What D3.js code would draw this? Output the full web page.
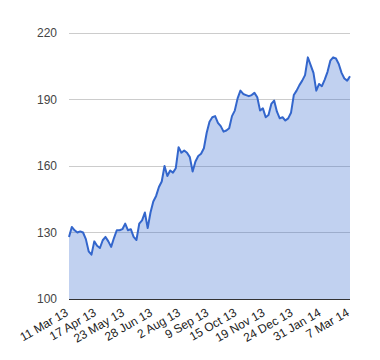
<!DOCTYPE html>
<html>
<head>
<meta charset="utf-8">
<script src="https://cdn.jsdelivr.net/npm/d3@7"></script>
<style>
  body { margin: 0; background: #fff; }
  text { font-family: "Liberation Sans", Arial, sans-serif; }
</style>
</head>
<body>
<div id="chart"></div>
<script>
// price readings, evenly spaced trading days (11 Mar 13 .. 7 Mar 14)
let values = [128, 132.5, 131, 130, 130.5, 130, 127, 121.5, 120, 126,
    124, 123, 126.5, 128, 126, 123.5, 127.5, 131, 131, 131.5,
    134, 131, 131.5, 128, 126.6, 134, 135.5, 139, 132, 139,
    144, 146.5, 150.5, 153, 160, 155.5, 158, 157, 159, 168.5,
    166, 167, 166, 164, 157.5, 162, 164.5, 165.5, 168, 175,
    180, 182, 182.5, 179.5, 178, 175.5, 176, 177, 182.5, 185,
    190.5, 194, 192.5, 192, 191.5, 192, 193, 191, 185, 186,
    182, 183, 188, 189.5, 184.5, 181.5, 182, 180.5, 181.5, 184,
    192, 194, 196.5, 198.5, 201, 209, 205.5, 202, 194, 197,
    196, 199, 202.5, 207.5, 209, 208.5, 206, 202, 199.5, 198.5,
    200.5];

// x labels, one every 10 points
let tickLabels = ["11 Mar 13", "17 Apr 13", "23 May 13", "28 Jun 13", "2 Aug 13",
    "9 Sep 13", "15 Oct 13", "19 Nov 13", "24 Dec 13", "31 Jan 14", "7 Mar 14"];
let yTicks = [100, 130, 160, 190, 220];

var margin = { top: 33, right: 30, bottom: 61, left: 69 },
    width = 380 - margin.left - margin.right,
    height = 360 - margin.top - margin.bottom;

var svg = d3.select("#chart")
    .append("svg")
    .attr("width", 380)
    .attr("height", 360)
    .append("g")
    .attr("transform", "translate(" + margin.left + "," + margin.top + ")");

var x = d3.scaleLinear()
    .domain([0, values.length - 1])
    .range([0, width]);

var y = d3.scaleLinear()
    .domain([100, 220])
    .range([height, 0]);

// gridlines
svg.selectAll(".grid")
    .data(yTicks)
    .enter()
    .append("line")
    .attr("x1", 0)
    .attr("x2", width)
    .attr("y1", function (d) { return y(d); })
    .attr("y2", function (d) { return y(d); })
    .attr("stroke", "#cccccc")
    .attr("stroke-width", 1)
    .attr("shape-rendering", "crispEdges");

// y labels
svg.selectAll(".ylab")
    .data(yTicks)
    .enter()
    .append("text")
    .attr("x", -12)
    .attr("y", function (d) { return y(d); })
    .attr("dy", "0.35em")
    .attr("text-anchor", "end")
    .style("font-size", "12px")
    .style("fill", "#444")
    .text(function (d) { return d; });

// area + line
var area = d3.area()
    .x(function (d, i) { return x(i); })
    .y0(y(100))
    .y1(function (d) { return y(d); });

var line = d3.line()
    .x(function (d, i) { return x(i); })
    .y(function (d) { return y(d); });

svg.append("path")
    .datum(values)
    .attr("d", area)
    .attr("fill", "#3366cc")
    .attr("fill-opacity", 0.3);

svg.append("path")
    .datum(values)
    .attr("d", line)
    .attr("fill", "none")
    .attr("stroke", "#3366cc")
    .attr("stroke-width", 2)
    .attr("stroke-linejoin", "round");

// baseline
svg.append("line")
    .attr("x1", 0)
    .attr("x2", width)
    .attr("y1", y(100))
    .attr("y2", y(100))
    .attr("stroke", "#333")
    .attr("stroke-width", 1)
    .attr("shape-rendering", "crispEdges");

// x labels, rotated
svg.selectAll(".xlab")
    .data(tickLabels)
    .enter()
    .append("text")
    .attr("transform", function (d, i) {
        return "translate(" + x(i * 10) + "," + (height + 16) + ")rotate(-30)";
    })
    .attr("text-anchor", "end")
    .style("font-size", "12px")
    .style("fill", "#222")
    .text(function (d) { return d; });
</script>
</body>
</html>
